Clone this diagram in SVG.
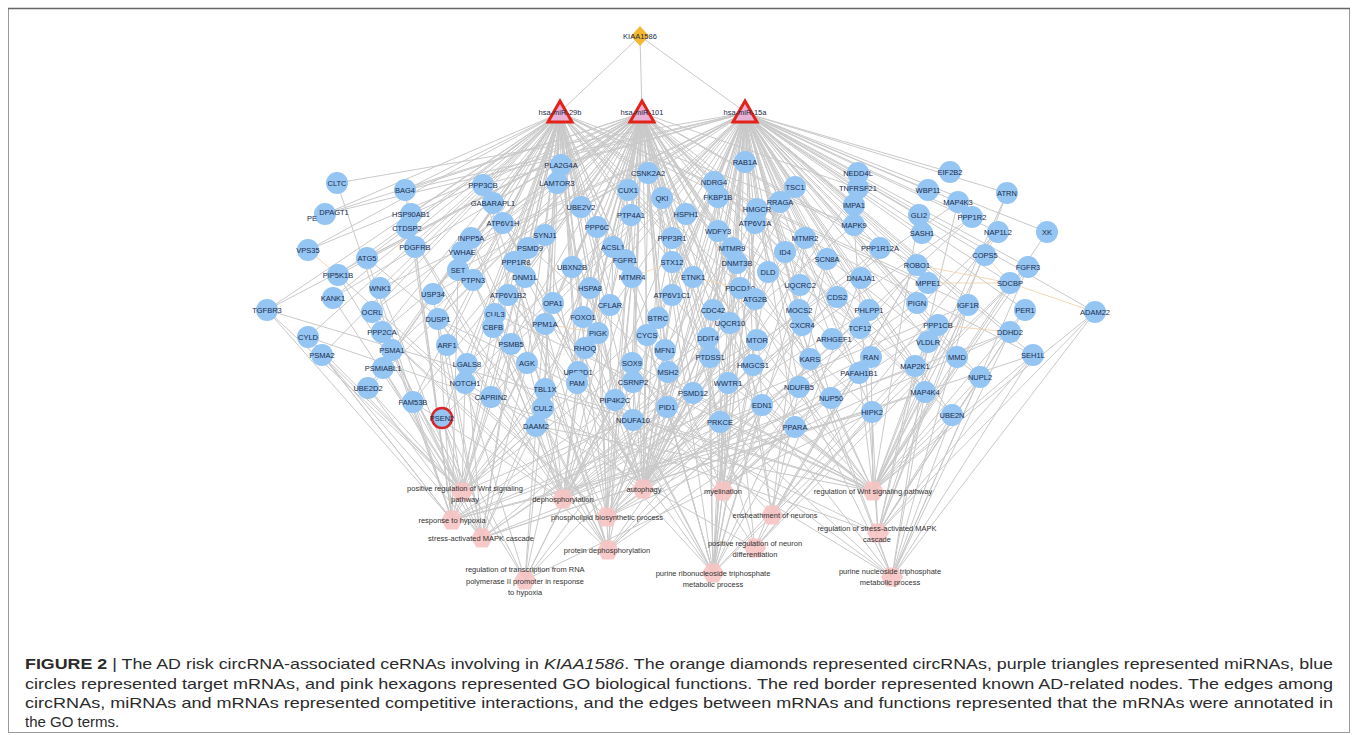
<svg xmlns="http://www.w3.org/2000/svg" width="1358" height="735" viewBox="0 0 1358 735">
<style>
.e{fill:none;stroke:#c9c9c9;stroke-width:1}
.p{fill:none;stroke:#f2d2ae;stroke-width:0.9}
.m circle{fill:#94c5f3}
.m text,.mi text,.c text{font-family:'Liberation Sans',Arial,sans-serif;font-size:7.5px;fill:#1c2b4a;text-anchor:middle}
.g use{fill:#f7c3c3;opacity:0.9}
.g text{font-family:'Liberation Sans',Arial,sans-serif;font-size:7.5px;fill:#333333;text-anchor:middle}
.cap{font-family:'Liberation Sans',Arial,sans-serif;font-size:15px;fill:#2b2b2b}
</style>
<defs>
<polygon id="hex" points="-11,0 -5.5,-9.5 5.5,-9.5 11,0 5.5,9.5 -5.5,9.5"/>
</defs>
<rect x="0" y="0" width="1358" height="735" fill="#ffffff"/>
<rect x="8.5" y="8.5" width="1341" height="724" fill="none" stroke="#9a9a9a" stroke-width="1"/>
<line x1="8" y1="8.5" x2="1350" y2="8.5" stroke="#666" stroke-width="1.5"/>
<g id="connectors">
<path class="e" d="M640 36L560 112M640 36L642 112M640 36L745 112"/>
<path class="e" id="e-miR29b" d="M560 113L405 190M560 113L483 185M560 113L493 203M560 113L325 214M560 113L411 214M560 113L407 228M560 113L503 223M560 113L471 238M560 113L415 247M560 113L308 250M560 113L367 258M560 113L462 252M560 113L545 235M560 113L528 248M560 113L514 262M560 113L458 270M560 113L473 280M560 113L525 277M560 113L338 275M560 113L380 288M560 113L333 298M560 113L433 294M560 113L508 295M560 113L267 310M560 113L372 312M560 113L438 319M560 113L495 314M560 113L493 327M560 113L382 332M560 113L308 337M560 113L447 345M560 113L511 344M560 113L392 350M560 113L322 355M560 113L467 364M560 113L527 363M560 113L383 368M560 113L465 383M560 113L368 388M560 113L491 397M560 113L545 389M560 113L413 402M560 113L442 418M560 113L543 408M560 113L536 426M560 113L561 165M560 113L557 183M560 113L581 207M560 113L597 227M560 113L613 247M560 113L572 267M560 113L553 303M560 113L545 324M560 113L583 317M560 113L585 348M560 113L577 383M560 113L578 372M560 113L590 288M560 113L610 305M560 113L598 333M560 113L632 363M560 113L615 400M560 113L633 420M560 113L648 173M560 113L631 215M560 113L672 238M560 113L632 277M560 113L665 350M560 113L757 340M560 113L768 272M560 113L831 398M560 113L795 427M560 113L872 412M560 113L860 328M560 113L854 225M560 113L928 283M560 113L968 305M560 113L1033 355"/>
<path class="e" id="e-miR101" d="M642 113L405 190M642 113L325 214M642 113L308 250M642 113L411 214M642 113L367 258M642 113L338 275M642 113L333 298M642 113L372 312M642 113L267 310M642 113L382 332M642 113L392 350M642 113L368 388M642 113L413 402M642 113L447 345M642 113L438 319M642 113L462 252M642 113L471 238M642 113L493 203M642 113L503 223M642 113L528 248M642 113L525 277M642 113L508 295M642 113L495 314M642 113L511 344M642 113L527 363M642 113L545 389M642 113L536 426M642 113L561 165M642 113L557 183M642 113L648 173M642 113L628 190M642 113L662 198M642 113L581 207M642 113L631 215M642 113L686 214M642 113L597 227M642 113L672 238M642 113L613 247M642 113L625 260M642 113L672 262M642 113L572 267M642 113L632 277M642 113L693 277M642 113L590 288M642 113L672 295M642 113L553 303M642 113L610 305M642 113L583 317M642 113L658 318M642 113L545 324M642 113L598 333M642 113L647 335M642 113L585 348M642 113L665 350M642 113L632 363M642 113L578 372M642 113L668 372M642 113L577 383M642 113L633 382M642 113L693 393M642 113L615 400M642 113L667 407M642 113L633 420M642 113L720 422M642 113L714 182M642 113L718 231M642 113L732 248M642 113L737 263M642 113L740 288M642 113L713 310M642 113L730 323M642 113L708 338M642 113L710 357M642 113L728 383M642 113L762 405M642 113L753 365M642 113L799 387M642 113L831 398M642 113L810 359M642 113L871 357M642 113L859 373M642 113L915 366M642 113L925 392M642 113L952 415M642 113L980 377M642 113L917 265M642 113L869 310M642 113L880 248M642 113L858 188"/>
<path class="e" id="e-miR15a" d="M745 113L337 183M745 113L405 190M745 113L325 214M745 113L483 185M745 113L462 252M745 113L458 270M745 113L433 294M745 113L380 288M745 113L467 364M745 113L465 383M745 113L491 397M745 113L442 418M745 113L543 408M745 113L561 165M745 113L581 207M745 113L628 190M745 113L662 198M745 113L686 214M745 113L672 262M745 113L625 260M745 113L693 277M745 113L672 295M745 113L658 318M745 113L647 335M745 113L668 372M745 113L633 382M745 113L693 393M745 113L667 407M745 113L720 422M745 113L745 162M745 113L714 182M745 113L718 197M745 113L795 187M745 113L780 202M745 113L757 209M745 113L755 223M745 113L718 231M745 113L805 238M745 113L732 248M745 113L785 252M745 113L737 263M745 113L827 259M745 113L768 272M745 113L740 288M745 113L800 285M745 113L755 299M745 113L837 297M745 113L713 310M745 113L799 310M745 113L730 323M745 113L802 325M745 113L708 338M745 113L757 340M745 113L832 339M745 113L710 357M745 113L810 359M745 113L753 365M745 113L728 383M745 113L799 387M745 113L831 398M745 113L762 405M745 113L795 427M745 113L858 173M745 113L858 188M745 113L854 205M745 113L854 225M745 113L880 248M745 113L861 278M745 113L869 310M745 113L860 328M745 113L871 357M745 113L859 373M745 113L872 412M745 113L950 172M745 113L928 190M745 113L1007 193M745 113L958 202M745 113L919 215M745 113L972 217M745 113L922 233M745 113L998 232M745 113L1047 232M745 113L985 255M745 113L917 265M745 113L1028 267M745 113L928 283M745 113L1010 283M745 113L917 303M745 113L968 305M745 113L1025 310M745 113L1095 312M745 113L938 325M745 113L1010 332M745 113L928 342M745 113L957 357M745 113L1033 355M745 113L915 366M745 113L980 377M745 113L925 392M745 113L952 415"/>
<path class="e" id="e-go-left" d="M462 492L267 310M462 492L308 337M462 492L322 355M462 492L392 350M462 492L383 368M462 492L368 388M462 492L465 383M462 492L413 402M462 492L442 418M462 492L495 314M462 492L536 426M462 492L545 389M462 492L491 397M462 492L511 344M462 492L528 248M462 492L632 363M462 492L693 393M462 492L333 298M462 492L380 288M462 492L433 294M462 492L527 363M462 492L543 408M462 492L658 318M452 520L267 310M452 520L308 337M452 520L415 247M452 520L367 258M452 520L411 214M452 520L337 183M452 520L405 190M452 520L458 270M452 520L508 295M452 520L553 303M452 520L583 317M452 520L708 338M452 520L757 340M452 520L762 405M452 520L795 427M452 520L872 412M452 520L968 305M452 520L438 319M452 520L322 355M452 520L392 350M482 538L392 350M482 538L322 355M482 538L383 368M482 538L511 344M482 538L528 248M482 538L693 393M482 538L438 319M482 538L854 225M482 538L915 366M482 538L925 392M482 538L958 202M482 538L368 388M482 538L442 418M482 538L545 389M482 538L536 426M482 538L467 364M482 538L1033 355M482 538L527 363M482 538L447 345M525 580L442 418M525 580L465 383M525 580L872 412M525 580L757 340M525 580L708 338M525 580L583 317M525 580L615 400M525 580L543 408M525 580L536 426M525 580L632 363M525 580L338 275"/>
<path class="e" id="e-go-mid" d="M563 499L483 185M563 499L514 262M563 499L382 332M563 499L438 319M563 499L473 280M563 499L545 324M563 499L597 227M563 499L672 238M563 499L631 215M563 499L805 238M563 499L632 277M563 499L732 248M563 499L869 310M563 499L938 325M563 499L972 217M563 499L880 248M563 499L407 228M563 499L471 238M563 499L493 327M563 499L413 402M563 499L1010 332M563 499L615 400M563 499L667 407M563 499L633 382M563 499L578 372M563 499L585 348M643 489L367 258M643 489L755 299M643 489L718 231M643 489L757 340M643 489L557 183M643 489L493 203M643 489L780 202M643 489L745 162M643 489L795 187M643 489L503 223M643 489L755 223M643 489L508 295M643 489L672 295M643 489L590 288M643 489L583 317M643 489L525 277M643 489L553 303M643 489L785 252M643 489L762 405M643 489L647 335M643 489L665 350M643 489L631 215M643 489L686 214M643 489L648 173M643 489L662 198M643 489L714 182M643 489L732 248M643 489L737 263M643 489L710 357M643 489L668 372M643 489L633 382M643 489L693 393M643 489L720 422M643 489L799 310M643 489L802 325M607 517L561 165M607 517L613 247M607 517L693 277M607 517L710 357M607 517L837 297M607 517L471 238M607 517L805 238M607 517L632 277M607 517L732 248M607 517L338 275M607 517L615 400M607 517L545 235M607 517L372 312M607 517L598 333M607 517L917 303M607 517L859 373M607 517L1010 332M607 517L928 283M607 517L753 365M607 517L757 209M608 550L483 185M608 550L514 262M608 550L382 332M608 550L438 319M608 550L473 280M608 550L545 324M608 550L597 227M608 550L672 238M608 550L631 215M608 550L632 277M608 550L869 310M608 550L938 325M608 550L972 217M608 550L880 248M608 550L407 228M608 550L493 327M608 550L858 188M723 491L714 182M723 491L827 259M723 491L805 238M723 491L632 363M723 491L740 288M723 491L917 265M723 491L998 232M723 491L665 350M723 491L708 338M723 491L728 383M723 491L762 405M723 491L795 427M723 491L831 398M723 491L810 359M772 515L714 182M772 515L827 259M772 515L805 238M772 515L632 363M772 515L998 232M772 515L917 265M772 515L740 288M772 515L859 373M755 548L917 265M755 548L465 383M755 548L632 363M755 548L648 173M755 548L714 182M755 548L872 412M755 548L1028 267M755 548L968 305M755 548L861 278M713 573L503 223M713 573L755 223M713 573L508 295M713 573L672 295M713 573L633 420M713 573L799 387M713 573L800 285M713 573L730 323M713 573L647 335M713 573L768 272M713 573L757 209M713 573L625 260M713 573L1028 267M713 573L968 305M713 573L583 317M713 573L545 389M713 573L737 263M713 573L710 357M713 573L753 365M713 573L708 338M713 573L728 383M713 573L762 405M713 573L795 427M713 573L720 422M713 573L667 407"/>
<path class="e" id="e-go-right" d="M873 491L267 310M873 491L495 314M873 491L536 426M873 491L545 389M873 491L1095 312M873 491L1033 355M873 491L1025 310M873 491L1010 283M873 491L985 255M873 491L1047 232M873 491L919 215M873 491L1028 267M873 491L968 305M873 491L938 325M873 491L928 342M873 491L957 357M873 491L980 377M873 491L952 415M873 491L871 357M873 491L859 373M873 491L925 392M873 491L872 412M873 491L632 363M873 491L658 318M873 491L693 393M873 491L1007 193M873 491L757 340M873 491L753 365M873 491L762 405M873 491L795 427M873 491L831 398M873 491L810 359M873 491L799 387M873 491L720 422M873 491L728 383M878 533L1095 312M878 533L1033 355M878 533L915 366M878 533L925 392M878 533L958 202M878 533L854 225M878 533L872 412M878 533L952 415M878 533L980 377M878 533L1010 332M878 533L968 305M878 533L438 319M878 533L308 337M878 533L1025 310M878 533L1007 193M892 577L755 223M892 577L503 223M892 577L508 295M892 577L672 295M892 577L1033 355M892 577L1095 312M892 577L952 415M892 577L980 377M892 577L925 392M892 577L1028 267M892 577L968 305M892 577L757 209M892 577L928 342M892 577L1010 332M892 577L799 387M892 577L633 420"/>
<path class="p" id="e-peach" d="M1010 283L1095 312M985 255L1010 283M917 265L1010 283M928 283L1010 283M998 232L985 255M583 317L610 305M632 277L672 262M693 277L740 288M713 310L730 323M757 340L753 365M545 324L598 333M405 190L411 214M308 250L338 275M938 325L1010 332"/>
</g>
<g id="go-nodes" class="g">
<g id="go-pos-wnt"><use href="#hex" x="462" y="492"/><text x="465" y="490.5">positive regulation of Wnt signaling</text><text x="465" y="501.5">pathway</text></g>
<g id="go-hypoxia"><use href="#hex" x="452" y="520"/><text x="452" y="522.5">response to hypoxia</text></g>
<g id="go-sapk"><use href="#hex" x="482" y="538"/><text x="481" y="540.5">stress-activated MAPK cascade</text></g>
<g id="go-transcription"><use href="#hex" x="525" y="580"/><text x="525" y="571.5">regulation of transcription from RNA</text><text x="525" y="583.5">polymerase II promoter in response</text><text x="525" y="594.5">to hypoxia</text></g>
<g id="go-dephos"><use href="#hex" x="563" y="499"/><text x="563" y="502">dephosphorylation</text></g>
<g id="go-autophagy"><use href="#hex" x="643" y="489"/><text x="644" y="491.5">autophagy</text></g>
<g id="go-phospholipid"><use href="#hex" x="607" y="517"/><text x="607" y="520">phospholipid biosynthetic process</text></g>
<g id="go-protdephos"><use href="#hex" x="608" y="550"/><text x="607" y="552.5">protein dephosphorylation</text></g>
<g id="go-myelination"><use href="#hex" x="723" y="491"/><text x="723" y="493.5">myelination</text></g>
<g id="go-ensheathment"><use href="#hex" x="772" y="515"/><text x="775" y="517.5">ensheathment of neurons</text></g>
<g id="go-neurondiff"><use href="#hex" x="755" y="548"/><text x="755" y="545.5">positive regulation of neuron</text><text x="755" y="556.5">differentiation</text></g>
<g id="go-purine-ribo"><use href="#hex" x="713" y="573"/><text x="713" y="575.5">purine ribonucleoside triphosphate</text><text x="713" y="586.5">metabolic process</text></g>
<g id="go-reg-wnt"><use href="#hex" x="873" y="491"/><text x="873" y="493.5">regulation of Wnt signaling pathway</text></g>
<g id="go-reg-sapk"><use href="#hex" x="878" y="533"/><text x="877" y="530.5">regulation of stress-activated MAPK</text><text x="877" y="541.5">cascade</text></g>
<g id="go-purine-nuc"><use href="#hex" x="892" y="577"/><text x="890" y="573.5">purine nucleoside triphosphate</text><text x="890" y="584.5">metabolic process</text></g>
</g>
<g id="mrna-nodes" class="m">
<g id="n-CLTC"><circle cx="337" cy="183" r="11"/><text x="337" y="185.5">CLTC</text></g>
<g id="n-BAG4"><circle cx="405" cy="190" r="11"/><text x="405" y="192.5">BAG4</text></g>
<g id="n-PPP3CB"><circle cx="483" cy="185" r="11"/><text x="483" y="187.5">PPP3CB</text></g>
<g id="n-GABARAPL1"><circle cx="493" cy="203" r="11"/><text x="493" y="205.5">GABARAPL1</text></g>
<g id="n-DPAGT1"><circle cx="325" cy="214" r="11"/><text x="312" y="221">PE</text><text x="334" y="214.5">DPAGT1</text></g>
<g id="n-HSP90AB1"><circle cx="411" cy="214" r="11"/><text x="411" y="216.5">HSP90AB1</text></g>
<g id="n-CTDSP2"><circle cx="407" cy="228" r="11"/><text x="407" y="230.5">CTDSP2</text></g>
<g id="n-ATP6V1H"><circle cx="503" cy="223" r="11"/><text x="503" y="225.5">ATP6V1H</text></g>
<g id="n-INPP5A"><circle cx="471" cy="238" r="11"/><text x="471" y="240.5">INPP5A</text></g>
<g id="n-PDGFRB"><circle cx="415" cy="247" r="11"/><text x="415" y="249.5">PDGFRB</text></g>
<g id="n-VPS35"><circle cx="308" cy="250" r="11"/><text x="308" y="252.5">VPS35</text></g>
<g id="n-ATG5"><circle cx="367" cy="258" r="11"/><text x="367" y="260.5">ATG5</text></g>
<g id="n-YWHAE"><circle cx="462" cy="252" r="11"/><text x="462" y="254.5">YWHAE</text></g>
<g id="n-SYNJ1"><circle cx="545" cy="235" r="11"/><text x="545" y="237.5">SYNJ1</text></g>
<g id="n-PSMD9"><circle cx="528" cy="248" r="11"/><text x="530" y="250.5">PSMD9</text></g>
<g id="n-PPP1R8"><circle cx="514" cy="262" r="11"/><text x="516" y="264.5">PPP1R8</text></g>
<g id="n-SET"><circle cx="458" cy="270" r="11"/><text x="458" y="272.5">SET</text></g>
<g id="n-PTPN3"><circle cx="473" cy="280" r="11"/><text x="473" y="282.5">PTPN3</text></g>
<g id="n-DNM1L"><circle cx="525" cy="277" r="11"/><text x="525" y="279.5">DNM1L</text></g>
<g id="n-PIP5K1B"><circle cx="338" cy="275" r="11"/><text x="338" y="277.5">PIP5K1B</text></g>
<g id="n-WNK1"><circle cx="380" cy="288" r="11"/><text x="380" y="290.5">WNK1</text></g>
<g id="n-KANK1"><circle cx="333" cy="298" r="11"/><text x="333" y="300.5">KANK1</text></g>
<g id="n-USP34"><circle cx="433" cy="294" r="11"/><text x="433" y="296.5">USP34</text></g>
<g id="n-ATP6V1B2"><circle cx="508" cy="295" r="11"/><text x="508" y="297.5">ATP6V1B2</text></g>
<g id="n-TGFBR3"><circle cx="267" cy="310" r="11"/><text x="267" y="312.5">TGFBR3</text></g>
<g id="n-OCRL"><circle cx="372" cy="312" r="11"/><text x="372" y="314.5">OCRL</text></g>
<g id="n-DUSP1"><circle cx="438" cy="319" r="11"/><text x="438" y="321.5">DUSP1</text></g>
<g id="n-CUL3"><circle cx="495" cy="314" r="11"/><text x="495" y="316.5">CUL3</text></g>
<g id="n-CBFB"><circle cx="493" cy="327" r="11"/><text x="493" y="329.5">CBFB</text></g>
<g id="n-PPP2CA"><circle cx="382" cy="332" r="11"/><text x="382" y="334.5">PPP2CA</text></g>
<g id="n-CYLD"><circle cx="308" cy="337" r="11"/><text x="308" y="339.5">CYLD</text></g>
<g id="n-ARF1"><circle cx="447" cy="345" r="11"/><text x="447" y="347.5">ARF1</text></g>
<g id="n-PSMB5"><circle cx="511" cy="344" r="11"/><text x="511" y="346.5">PSMB5</text></g>
<g id="n-PSMA1"><circle cx="392" cy="350" r="11"/><text x="392" y="352.5">PSMA1</text></g>
<g id="n-PSMA2"><circle cx="322" cy="355" r="11"/><text x="322" y="357.5">PSMA2</text></g>
<g id="n-LGALS8"><circle cx="467" cy="364" r="11"/><text x="467" y="366.5">LGALS8</text></g>
<g id="n-AGK"><circle cx="527" cy="363" r="11"/><text x="527" y="365.5">AGK</text></g>
<g id="n-PSMIABL1"><circle cx="383" cy="368" r="11"/><text x="383" y="370.5">PSMIABL1</text></g>
<g id="n-NOTCH1"><circle cx="465" cy="383" r="11"/><text x="465" y="385.5">NOTCH1</text></g>
<g id="n-UBE2D2"><circle cx="368" cy="388" r="11"/><text x="368" y="390.5">UBE2D2</text></g>
<g id="n-CAPRIN2"><circle cx="491" cy="397" r="11"/><text x="491" y="399.5">CAPRIN2</text></g>
<g id="n-TBL1X"><circle cx="545" cy="389" r="11"/><text x="545" y="391.5">TBL1X</text></g>
<g id="n-FAM53B"><circle cx="413" cy="402" r="11"/><text x="413" y="404.5">FAM53B</text></g>
<g id="n-PSEN2"><circle cx="442" cy="418" r="10" stroke="#d7262b" stroke-width="2.5"/><text x="442" y="420.5">PSEN2</text></g>
<g id="n-CUL2"><circle cx="543" cy="408" r="11"/><text x="543" y="410.5">CUL2</text></g>
<g id="n-DAAM2"><circle cx="536" cy="426" r="11"/><text x="536" y="428.5">DAAM2</text></g>
<g id="n-PLA2G4A"><circle cx="561" cy="165" r="11"/><text x="561" y="167.5">PLA2G4A</text></g>
<g id="n-LAMTOR3"><circle cx="557" cy="183" r="11"/><text x="557" y="185.5">LAMTOR3</text></g>
<g id="n-CSNK2A2"><circle cx="648" cy="173" r="11"/><text x="648" y="175.5">CSNK2A2</text></g>
<g id="n-CUX1"><circle cx="628" cy="190" r="11"/><text x="628" y="192.5">CUX1</text></g>
<g id="n-QKI"><circle cx="662" cy="198" r="11"/><text x="662" y="200.5">QKI</text></g>
<g id="n-RAB1A"><circle cx="745" cy="162" r="11"/><text x="745" y="164.5">RAB1A</text></g>
<g id="n-NDRG4"><circle cx="714" cy="182" r="11"/><text x="714" y="184.5">NDRG4</text></g>
<g id="n-FKBP1B"><circle cx="718" cy="197" r="11"/><text x="718" y="199.5">FKBP1B</text></g>
<g id="n-TSC1"><circle cx="795" cy="187" r="11"/><text x="795" y="189.5">TSC1</text></g>
<g id="n-RRAGA"><circle cx="780" cy="202" r="11"/><text x="780" y="204.5">RRAGA</text></g>
<g id="n-HMGCR"><circle cx="757" cy="209" r="11"/><text x="757" y="211.5">HMGCR</text></g>
<g id="n-UBE2V2"><circle cx="581" cy="207" r="11"/><text x="581" y="209.5">UBE2V2</text></g>
<g id="n-PTP4A1"><circle cx="631" cy="215" r="11"/><text x="631" y="217.5">PTP4A1</text></g>
<g id="n-HSPH1"><circle cx="686" cy="214" r="11"/><text x="686" y="216.5">HSPH1</text></g>
<g id="n-PPP6C"><circle cx="597" cy="227" r="11"/><text x="597" y="229.5">PPP6C</text></g>
<g id="n-ATP6V1A"><circle cx="755" cy="223" r="11"/><text x="755" y="225.5">ATP6V1A</text></g>
<g id="n-WDFY3"><circle cx="718" cy="231" r="11"/><text x="718" y="233.5">WDFY3</text></g>
<g id="n-PPP3R1"><circle cx="672" cy="238" r="11"/><text x="672" y="240.5">PPP3R1</text></g>
<g id="n-MTMR2"><circle cx="805" cy="238" r="11"/><text x="805" y="240.5">MTMR2</text></g>
<g id="n-ACSL1"><circle cx="613" cy="247" r="11"/><text x="613" y="249.5">ACSL1</text></g>
<g id="n-MTMR9"><circle cx="732" cy="248" r="11"/><text x="732" y="250.5">MTMR9</text></g>
<g id="n-ID4"><circle cx="785" cy="252" r="11"/><text x="785" y="254.5">ID4</text></g>
<g id="n-FGFR1"><circle cx="625" cy="260" r="11"/><text x="625" y="262.5">FGFR1</text></g>
<g id="n-STX12"><circle cx="672" cy="262" r="11"/><text x="672" y="264.5">STX12</text></g>
<g id="n-DNMT3B"><circle cx="737" cy="263" r="11"/><text x="737" y="265.5">DNMT3B</text></g>
<g id="n-SCN8A"><circle cx="827" cy="259" r="11"/><text x="827" y="261.5">SCN8A</text></g>
<g id="n-UBXN2B"><circle cx="572" cy="267" r="11"/><text x="572" y="269.5">UBXN2B</text></g>
<g id="n-MTMR4"><circle cx="632" cy="277" r="11"/><text x="632" y="279.5">MTMR4</text></g>
<g id="n-ETNK1"><circle cx="693" cy="277" r="11"/><text x="693" y="279.5">ETNK1</text></g>
<g id="n-DLD"><circle cx="768" cy="272" r="11"/><text x="768" y="274.5">DLD</text></g>
<g id="n-HSPA8"><circle cx="590" cy="288" r="11"/><text x="590" y="290.5">HSPA8</text></g>
<g id="n-ATP6V1C1"><circle cx="672" cy="295" r="11"/><text x="672" y="297.5">ATP6V1C1</text></g>
<g id="n-PDCD10"><circle cx="740" cy="288" r="11"/><text x="740" y="290.5">PDCD10</text></g>
<g id="n-UQCRC2"><circle cx="800" cy="285" r="11"/><text x="800" y="287.5">UQCRC2</text></g>
<g id="n-ATG2B"><circle cx="755" cy="299" r="11"/><text x="755" y="301.5">ATG2B</text></g>
<g id="n-CDS2"><circle cx="837" cy="297" r="11"/><text x="837" y="299.5">CDS2</text></g>
<g id="n-OPA1"><circle cx="553" cy="303" r="11"/><text x="553" y="305.5">OPA1</text></g>
<g id="n-CFLAR"><circle cx="610" cy="305" r="11"/><text x="610" y="307.5">CFLAR</text></g>
<g id="n-CDC42"><circle cx="713" cy="310" r="11"/><text x="713" y="312.5">CDC42</text></g>
<g id="n-MOCS2"><circle cx="799" cy="310" r="11"/><text x="799" y="312.5">MOCS2</text></g>
<g id="n-FOXO1"><circle cx="583" cy="317" r="11"/><text x="583" y="319.5">FOXO1</text></g>
<g id="n-BTRC"><circle cx="658" cy="318" r="11"/><text x="658" y="320.5">BTRC</text></g>
<g id="n-UQCR10"><circle cx="730" cy="323" r="11"/><text x="730" y="325.5">UQCR10</text></g>
<g id="n-CXCR4"><circle cx="802" cy="325" r="11"/><text x="802" y="327.5">CXCR4</text></g>
<g id="n-PPM1A"><circle cx="545" cy="324" r="11"/><text x="545" y="326.5">PPM1A</text></g>
<g id="n-PIGK"><circle cx="598" cy="333" r="11"/><text x="598" y="335.5">PIGK</text></g>
<g id="n-CYCS"><circle cx="647" cy="335" r="11"/><text x="647" y="337.5">CYCS</text></g>
<g id="n-DDIT4"><circle cx="708" cy="338" r="11"/><text x="708" y="340.5">DDIT4</text></g>
<g id="n-MTOR"><circle cx="757" cy="340" r="11"/><text x="757" y="342.5">MTOR</text></g>
<g id="n-ARHGEF1"><circle cx="832" cy="339" r="11"/><text x="834" y="341.5">ARHGEF1</text></g>
<g id="n-RHOQ"><circle cx="585" cy="348" r="11"/><text x="585" y="350.5">RHOQ</text></g>
<g id="n-MFN1"><circle cx="665" cy="350" r="11"/><text x="665" y="352.5">MFN1</text></g>
<g id="n-PTDSS1"><circle cx="710" cy="357" r="11"/><text x="710" y="359.5">PTDSS1</text></g>
<g id="n-KARS"><circle cx="810" cy="359" r="11"/><text x="810" y="361.5">KARS</text></g>
<g id="n-SOX9"><circle cx="632" cy="363" r="11"/><text x="632" y="365.5">SOX9</text></g>
<g id="n-UBE2D1"><circle cx="578" cy="372" r="11"/><text x="578" y="374.5">UBE2D1</text></g>
<g id="n-MSH2"><circle cx="668" cy="372" r="11"/><text x="668" y="374.5">MSH2</text></g>
<g id="n-HMGCS1"><circle cx="753" cy="365" r="11"/><text x="753" y="367.5">HMGCS1</text></g>
<g id="n-PAM"><circle cx="577" cy="383" r="11"/><text x="577" y="385.5">PAM</text></g>
<g id="n-CSRNP2"><circle cx="633" cy="382" r="11"/><text x="633" y="384.5">CSRNP2</text></g>
<g id="n-WWTR1"><circle cx="728" cy="383" r="11"/><text x="728" y="385.5">WWTR1</text></g>
<g id="n-NDUFB5"><circle cx="799" cy="387" r="11"/><text x="799" y="389.5">NDUFB5</text></g>
<g id="n-PSMD12"><circle cx="693" cy="393" r="11"/><text x="693" y="395.5">PSMD12</text></g>
<g id="n-NUP50"><circle cx="831" cy="398" r="11"/><text x="831" y="400.5">NUP50</text></g>
<g id="n-PIP4K2C"><circle cx="615" cy="400" r="11"/><text x="615" y="402.5">PIP4K2C</text></g>
<g id="n-PID1"><circle cx="667" cy="407" r="11"/><text x="667" y="409.5">PID1</text></g>
<g id="n-EDN1"><circle cx="762" cy="405" r="11"/><text x="762" y="407.5">EDN1</text></g>
<g id="n-NDUFA10"><circle cx="633" cy="420" r="11"/><text x="633" y="422.5">NDUFA10</text></g>
<g id="n-PRKCE"><circle cx="720" cy="422" r="11"/><text x="720" y="424.5">PRKCE</text></g>
<g id="n-PPARA"><circle cx="795" cy="427" r="11"/><text x="795" y="429.5">PPARA</text></g>
<g id="n-NEDD4L"><circle cx="858" cy="173" r="11"/><text x="858" y="175.5">NEDD4L</text></g>
<g id="n-TNFRSF21"><circle cx="858" cy="188" r="11"/><text x="858" y="190.5">TNFRSF21</text></g>
<g id="n-IMPA1"><circle cx="854" cy="205" r="11"/><text x="854" y="207.5">IMPA1</text></g>
<g id="n-MAPK9"><circle cx="854" cy="225" r="11"/><text x="854" y="227.5">MAPK9</text></g>
<g id="n-PPP1R12A"><circle cx="880" cy="248" r="11"/><text x="880" y="250.5">PPP1R12A</text></g>
<g id="n-DNAJA1"><circle cx="861" cy="278" r="11"/><text x="861" y="280.5">DNAJA1</text></g>
<g id="n-PHLPP1"><circle cx="869" cy="310" r="11"/><text x="869" y="312.5">PHLPP1</text></g>
<g id="n-TCF12"><circle cx="860" cy="328" r="11"/><text x="860" y="330.5">TCF12</text></g>
<g id="n-RAN"><circle cx="871" cy="357" r="11"/><text x="871" y="359.5">RAN</text></g>
<g id="n-PAFAH1B1"><circle cx="859" cy="373" r="11"/><text x="859" y="375.5">PAFAH1B1</text></g>
<g id="n-HIPK2"><circle cx="872" cy="412" r="11"/><text x="872" y="414.5">HIPK2</text></g>
<g id="n-EIF2B2"><circle cx="950" cy="172" r="11"/><text x="950" y="174.5">EIF2B2</text></g>
<g id="n-WBP11"><circle cx="928" cy="190" r="11"/><text x="928" y="192.5">WBP11</text></g>
<g id="n-ATRN"><circle cx="1007" cy="193" r="11"/><text x="1007" y="195.5">ATRN</text></g>
<g id="n-MAP4K3"><circle cx="958" cy="202" r="11"/><text x="958" y="204.5">MAP4K3</text></g>
<g id="n-GLI2"><circle cx="919" cy="215" r="11"/><text x="919" y="217.5">GLI2</text></g>
<g id="n-PPP1R2"><circle cx="972" cy="217" r="11"/><text x="972" y="219.5">PPP1R2</text></g>
<g id="n-SASH1"><circle cx="922" cy="233" r="11"/><text x="922" y="235.5">SASH1</text></g>
<g id="n-NAP1L2"><circle cx="998" cy="232" r="11"/><text x="998" y="234.5">NAP1L2</text></g>
<g id="n-XK"><circle cx="1047" cy="232" r="11"/><text x="1047" y="234.5">XK</text></g>
<g id="n-COPS5"><circle cx="985" cy="255" r="11"/><text x="985" y="257.5">COPS5</text></g>
<g id="n-ROBO1"><circle cx="917" cy="265" r="11"/><text x="917" y="267.5">ROBO1</text></g>
<g id="n-FGFR3"><circle cx="1028" cy="267" r="11"/><text x="1028" y="269.5">FGFR3</text></g>
<g id="n-MPPE1"><circle cx="928" cy="283" r="11"/><text x="928" y="285.5">MPPE1</text></g>
<g id="n-SDCBP"><circle cx="1010" cy="283" r="11"/><text x="1010" y="285.5">SDCBP</text></g>
<g id="n-PIGN"><circle cx="917" cy="303" r="11"/><text x="917" y="305.5">PIGN</text></g>
<g id="n-IGF1R"><circle cx="968" cy="305" r="11"/><text x="968" y="307.5">IGF1R</text></g>
<g id="n-PER1"><circle cx="1025" cy="310" r="11"/><text x="1025" y="312.5">PER1</text></g>
<g id="n-ADAM22"><circle cx="1095" cy="312" r="11"/><text x="1095" y="314.5">ADAM22</text></g>
<g id="n-PPP1CB"><circle cx="938" cy="325" r="11"/><text x="938" y="327.5">PPP1CB</text></g>
<g id="n-DDHD2"><circle cx="1010" cy="332" r="11"/><text x="1010" y="334.5">DDHD2</text></g>
<g id="n-VLDLR"><circle cx="928" cy="342" r="11"/><text x="928" y="344.5">VLDLR</text></g>
<g id="n-MMD"><circle cx="957" cy="357" r="11"/><text x="957" y="359.5">MMD</text></g>
<g id="n-SEH1L"><circle cx="1033" cy="355" r="11"/><text x="1033" y="357.5">SEH1L</text></g>
<g id="n-MAP2K1"><circle cx="915" cy="366" r="11"/><text x="915" y="368.5">MAP2K1</text></g>
<g id="n-NUPL2"><circle cx="980" cy="377" r="11"/><text x="980" y="379.5">NUPL2</text></g>
<g id="n-MAP4K4"><circle cx="925" cy="392" r="11"/><text x="925" y="394.5">MAP4K4</text></g>
<g id="n-UBE2N"><circle cx="952" cy="415" r="11"/><text x="952" y="417.5">UBE2N</text></g>
</g>
<g id="mirna-nodes" class="mi">
<g id="n-miR-29b"><polygon points="560,101 572,122 548,122" fill="#e8b0d2" stroke="#e2231a" stroke-width="3"/><text x="560" y="114.5">hsa-miR-29b</text></g>
<g id="n-miR-101"><polygon points="642,101 654,122 630,122" fill="#e8b0d2" stroke="#e2231a" stroke-width="3"/><text x="642" y="114.5">hsa-miR-101</text></g>
<g id="n-miR-15a"><polygon points="745,101 757,122 733,122" fill="#e8b0d2" stroke="#e2231a" stroke-width="3"/><text x="745" y="114.5">hsa-miR-15a</text></g>
</g>
<g id="circrna-node" class="c">
<g id="n-KIAA1586"><polygon points="640,26 649,36 640,46 631,36" fill="#f5b82e"/><text x="640" y="38.5">KIAA1586</text></g>
</g>
<g id="caption" class="cap">
<text x="25" y="669" textLength="1308" lengthAdjust="spacingAndGlyphs"><tspan font-weight="bold">FIGURE 2</tspan> | The AD risk circRNA-associated ceRNAs involving in <tspan font-style="italic">KIAA1586</tspan>. The orange diamonds represented circRNAs, purple triangles represented miRNAs, blue</text>
<text x="25" y="688.5" textLength="1308" lengthAdjust="spacingAndGlyphs">circles represented target mRNAs, and pink hexagons represented GO biological functions. The red border represented known AD-related nodes. The edges among</text>
<text x="25" y="708" textLength="1308" lengthAdjust="spacingAndGlyphs">circRNAs, miRNAs and mRNAs represented competitive interactions, and the edges between mRNAs and functions represented that the mRNAs were annotated in</text>
<text x="25" y="727">the GO terms.</text>
</g>
</svg>
